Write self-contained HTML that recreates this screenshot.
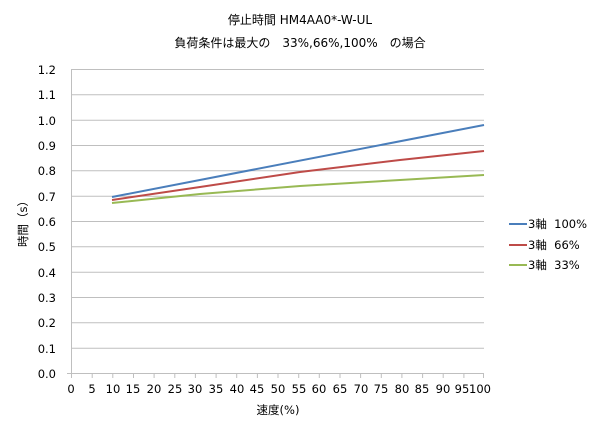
<!DOCTYPE html><html><head><meta charset="utf-8"><style>body{margin:0;background:#fff}svg{display:block;font-family:"DejaVu Sans","Noto Sans CJK JP",sans-serif}</style></head><body>
<svg width="600" height="431" xmlns="http://www.w3.org/2000/svg">
<rect width="600" height="431" fill="#fff"/>
<text x="300" y="24" font-size="12" text-anchor="middle" fill="#000">停止時間 HM4AA0*-W-UL</text>
<text x="300" y="47" font-size="12" text-anchor="middle" fill="#000">負荷条件は最大の　33%,66%,100%　の場合</text>
<g stroke="#bfbfbf" stroke-width="1">
<line x1="71" x2="484" y1="69.5" y2="69.5"/><line x1="71" x2="484" y1="94.8" y2="94.8"/><line x1="71" x2="484" y1="120.2" y2="120.2"/><line x1="71" x2="484" y1="145.5" y2="145.5"/><line x1="71" x2="484" y1="170.8" y2="170.8"/><line x1="71" x2="484" y1="196.2" y2="196.2"/><line x1="71" x2="484" y1="221.5" y2="221.5"/><line x1="71" x2="484" y1="246.8" y2="246.8"/><line x1="71" x2="484" y1="272.2" y2="272.2"/><line x1="71" x2="484" y1="297.5" y2="297.5"/><line x1="71" x2="484" y1="322.8" y2="322.8"/><line x1="71" x2="484" y1="348.2" y2="348.2"/>
<line x1="71.5" x2="71.5" y1="69" y2="373"/>
<line x1="67" x2="484" y1="373.5" y2="373.5"/>
</g>
<g font-size="11.5" fill="#000" text-anchor="end">
<text x="56" y="74">1.2</text><text x="56" y="99">1.1</text><text x="56" y="125">1.0</text><text x="56" y="150">0.9</text><text x="56" y="175">0.8</text><text x="56" y="201">0.7</text><text x="56" y="226">0.6</text><text x="56" y="251">0.5</text><text x="56" y="277">0.4</text><text x="56" y="302">0.3</text><text x="56" y="327">0.2</text><text x="56" y="353">0.1</text><text x="56" y="378">0.0</text>
</g>
<g stroke="#bfbfbf"><path d="M71.5 373v5M92.2 373v5M112.8 373v5M133.5 373v5M154.1 373v5M174.8 373v5M195.4 373v5M216.1 373v5M236.7 373v5M257.4 373v5M278 373v5M298.7 373v5M319.3 373v5M340 373v5M360.6 373v5M381.3 373v5M401.9 373v5M422.6 373v5M443.2 373v5M463.9 373v5M483.5 373v5"/></g>
<g font-size="11.5" fill="#000" text-anchor="middle">
<text x="71" y="393">0</text><text x="92" y="393">5</text><text x="113" y="393">10</text><text x="133" y="393">15</text><text x="154" y="393">20</text><text x="175" y="393">25</text><text x="195" y="393">30</text><text x="216" y="393">35</text><text x="237" y="393">40</text><text x="257" y="393">45</text><text x="278" y="393">50</text><text x="299" y="393">55</text><text x="319" y="393">60</text><text x="340" y="393">65</text><text x="361" y="393">70</text><text x="381" y="393">75</text><text x="402" y="393">80</text><text x="422" y="393">85</text><text x="443" y="393">90</text><text x="462" y="393">95</text><text x="480" y="393">100</text>
</g>
<text x="278" y="414" font-size="11.5" text-anchor="middle">速度(%)</text>
<text transform="translate(27,221) rotate(-90)" font-size="11.5" text-anchor="middle">時間（s）</text>
<g fill="none" stroke-width="2">
<polyline stroke="#4a7ebb" points="112,197 484,125"/>
<polyline stroke="#be4b48" points="112,200 200,187 300,172 400,160 484,151"/>
<polyline stroke="#98b954" points="112,203 200,194 300,186 400,180 484,175"/>
</g>
<g stroke-width="2"><line x1="509" x2="527" y1="224" y2="224" stroke="#4a7ebb"/><line x1="509" x2="527" y1="245" y2="245" stroke="#be4b48"/><line x1="509" x2="527" y1="265" y2="265" stroke="#98b954"/></g>
<g font-size="11.5" fill="#000"><text x="528" y="228" xml:space="preserve">3軸  100%</text><text x="528" y="249" xml:space="preserve">3軸  66%</text><text x="528" y="269" xml:space="preserve">3軸  33%</text></g>
</svg></body></html>
